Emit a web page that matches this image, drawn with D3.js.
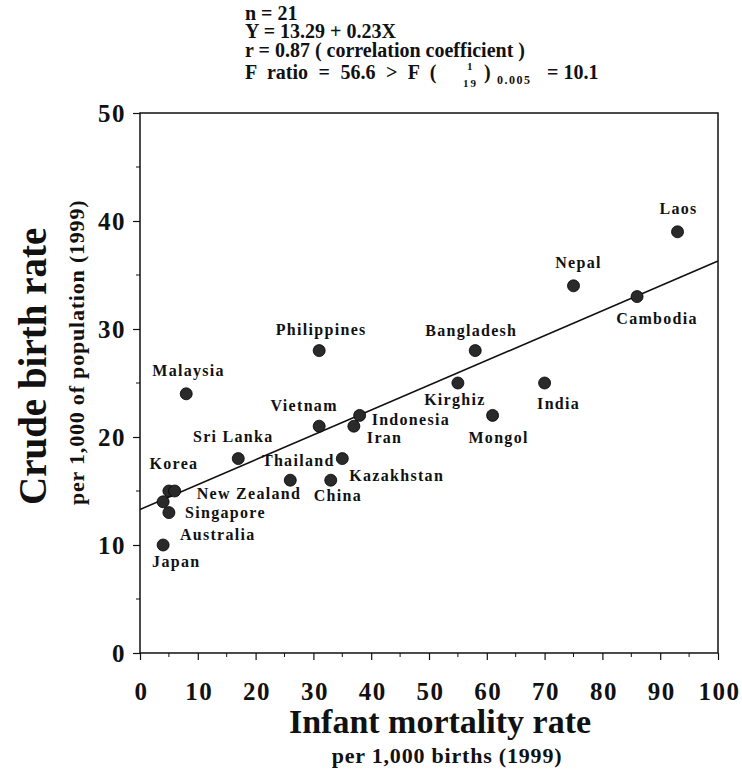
<!DOCTYPE html>
<html>
<head>
<meta charset="utf-8">
<script src="https://cdn.jsdelivr.net/npm/d3@7"></script>
<style>
  body { margin: 0; background: #fff; }
  svg text { font-family: "Liberation Serif", "DejaVu Serif", serif; font-weight: bold; fill: #111; }
</style>
</head>
<body>
<svg width="742" height="772"></svg>
<script>
const countries = ["Japan", "Australia", "Singapore", "Korea", "New Zealand", "Malaysia", "Sri Lanka",
  "Thailand", "China", "Kazakhstan", "Vietnam", "Philippines", "Iran", "Indonesia", "Kirghiz",
  "Bangladesh", "Mongol", "India", "Nepal", "Cambodia", "Laos"];
const infantMortality = [4, 5, 4, 5, 6, 8, 17, 26, 33, 35, 31, 31, 37, 38, 55, 58, 61, 70, 75, 86, 93];
const birthRate = [10, 13, 14, 15, 15, 24, 18, 16, 16, 18, 21, 28, 21, 22, 25, 28, 22, 25, 34, 33, 39];
const xTicks = [0, 10, 20, 30, 40, 50, 60, 70, 80, 90, 100];
const yTicks = [0, 10, 20, 30, 40, 50];
const intercept = 13.29, slope = 0.23;

// label placement relative to its dot: [dx, dy, anchor]
const labelOffsets = [
  [-11, 22, "start"], [11, 27, "start"], [22, 16, "start"], [5, -22, "middle"], [22, 8, "start"],
  [-34, -18, "start"], [-5, -17, "middle"], [8, -14, "middle"], [-17, 21, "start"], [7, 22, "start"],
  [-15, -15, "middle"], [2, -16, "middle"], [13, 17, "start"], [12, 10, "start"], [-3, 22, "middle"],
  [-4, -15, "middle"], [6, 28, "middle"], [14, 26, "middle"], [5, -18, "middle"], [20, 27, "middle"],
  [1, -18, "middle"]
];

const svg = d3.select("svg");
const plotLeft = 140, plotRight = 718, plotTop = 113, plotBottom = 653;

const x = d3.scaleLinear().domain([0, 100]).range([plotLeft, plotRight]);
const y = d3.scaleLinear().domain([0, 50]).range([plotBottom, plotTop]);

// header with the regression statistics
const header = svg.append("g").attr("font-size", 20);
const hx = 245;
header.append("text").attr("x", hx).attr("y", 19.5).text("n = 21");
header.append("text").attr("x", hx).attr("y", 38).text("Y = 13.29 + 0.23X");
header.append("text").attr("x", hx).attr("y", 56.5).text("r = 0.87 ( correlation coefficient )");
header.append("text").attr("x", hx).attr("y", 79).attr("word-spacing", 5.5).text("F ratio = 56.6 > F (");
header.append("text").attr("x", 467).attr("y", 70).attr("font-size", 11).text("1");
header.append("text").attr("x", 463).attr("y", 87).attr("font-size", 11).attr("letter-spacing", 2).text("19");
header.append("text").attr("x", 484).attr("y", 79).text(")");
header.append("text").attr("x", 497).attr("y", 84).attr("font-size", 12).attr("letter-spacing", 1.5).text("0.005");
header.append("text").attr("x", 547).attr("y", 79).text("= 10.1");

// frame
svg.append("rect").attr("x", plotLeft).attr("y", plotTop)
  .attr("width", plotRight - plotLeft).attr("height", plotBottom - plotTop)
  .attr("fill", "none").attr("stroke", "#111").attr("stroke-width", 1.5);

// axes
const xAxis = svg.append("g").attr("transform", `translate(0,${plotBottom})`)
  .call(d3.axisBottom(x).tickValues(xTicks).tickSize(7));
const yAxis = svg.append("g").attr("transform", `translate(${plotLeft},0)`)
  .call(d3.axisLeft(y).tickValues(yTicks).tickSize(7).tickPadding(7));
[xAxis, yAxis].forEach(a => {
  a.select(".domain").remove();
  a.selectAll("line").attr("stroke", "#111").attr("stroke-width", 1.2);
  a.selectAll("text").attr("font-size", 25).attr("font-family", "Liberation Serif")
    .attr("font-weight", "bold").attr("fill", "#111").attr("letter-spacing", 1.5);
});
xAxis.selectAll("text").attr("y", 47).attr("dy", null).attr("dx", 1);

// minor ticks
svg.append("g").selectAll("line").data(d3.range(5, 100, 10)).join("line")
  .attr("x1", d => x(d)).attr("x2", d => x(d)).attr("y1", plotBottom).attr("y2", plotBottom + 4)
  .attr("stroke", "#111").attr("stroke-width", 1);
svg.append("g").selectAll("line").data(d3.range(5, 50, 10)).join("line")
  .attr("y1", d => y(d)).attr("y2", d => y(d)).attr("x1", plotLeft).attr("x2", plotLeft - 4)
  .attr("stroke", "#111").attr("stroke-width", 1);

// regression line
svg.append("line")
  .attr("x1", x(0)).attr("y1", y(intercept))
  .attr("x2", x(100)).attr("y2", y(intercept + slope * 100))
  .attr("stroke", "#111").attr("stroke-width", 1.6);

// points
svg.append("g").selectAll("circle").data(countries).join("circle")
  .attr("cx", (d, i) => x(infantMortality[i]))
  .attr("cy", (d, i) => y(birthRate[i]))
  .attr("r", 6)
  .attr("fill", "#2a2a2a").attr("stroke", "#000").attr("stroke-width", 0.8);

// labels
svg.append("g").selectAll("text").data(countries).join("text")
  .attr("x", (d, i) => x(infantMortality[i]) + labelOffsets[i][0])
  .attr("y", (d, i) => y(birthRate[i]) + labelOffsets[i][1])
  .attr("text-anchor", (d, i) => labelOffsets[i][2])
  .attr("font-size", 16).attr("letter-spacing", 1.3)
  .text(d => d);

// axis titles
svg.append("text").attr("x", 440).attr("y", 733).attr("text-anchor", "middle")
  .attr("font-size", 34).text("Infant mortality rate");
svg.append("text").attr("x", 447).attr("y", 763).attr("text-anchor", "middle")
  .attr("font-size", 22).attr("letter-spacing", 0.8).text("per 1,000 births  (1999)");
svg.append("text").attr("transform", "translate(46,505) rotate(-90)")
  .attr("font-size", 39).text("Crude birth rate");
svg.append("text").attr("transform", "translate(84,505) rotate(-90)")
  .attr("font-size", 22).attr("letter-spacing", 0.8).text("per 1,000 of population (1999)");
</script>
</body>
</html>
